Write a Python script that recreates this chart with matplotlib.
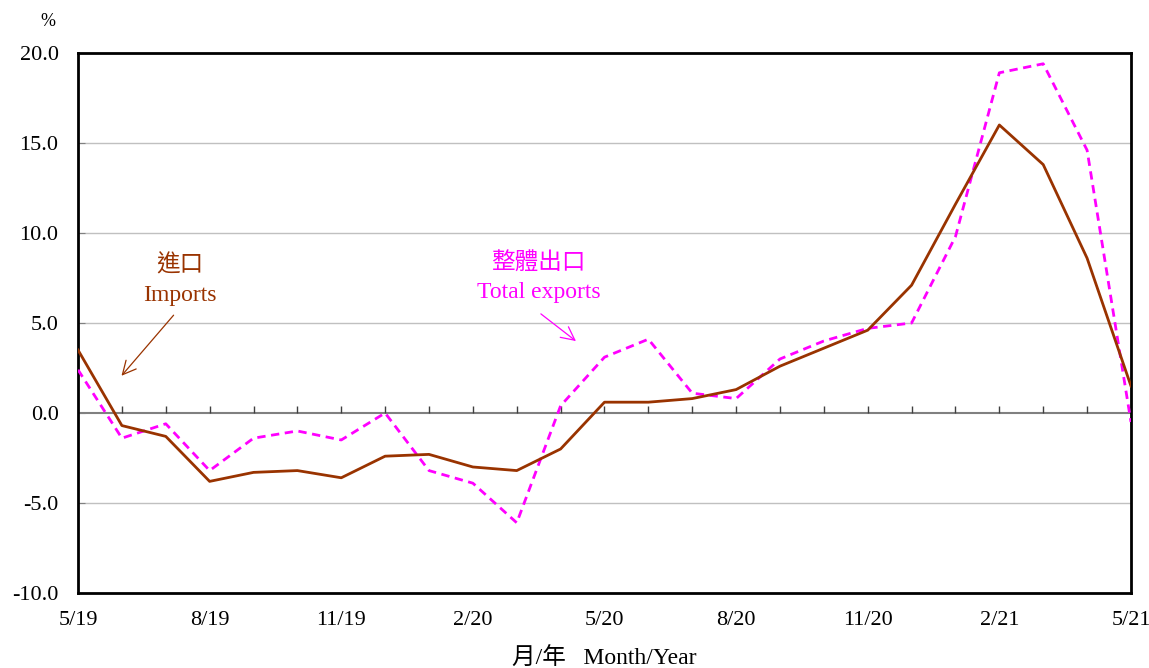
import numpy as np
import matplotlib
matplotlib.use("Agg")
import matplotlib.pyplot as plt

# Données (variation annuelle, %)
mois = ["5/19", "6/19", "7/19", "8/19", "9/19", "10/19", "11/19", "12/19",
        "1/20", "2/20", "3/20", "4/20", "5/20", "6/20", "7/20", "8/20",
        "9/20", "10/20", "11/20", "12/20", "1/21", "2/21", "3/21", "4/21", "5/21"]
imports = [3.5, -0.7, -1.3, -3.8, -3.3, -3.2, -3.6, -2.4, -2.3, -3.0, -3.2, -2.0,
           0.6, 0.6, 0.8, 1.3, 2.6, 3.6, 4.6, 7.1, 11.6, 16.0, 13.8, 8.6, 1.5]
exports = [2.4, -1.4, -0.6, -3.2, -1.4, -1.0, -1.5, 0.0, -3.2, -3.9, -6.1, 0.4,
           3.1, 4.1, 1.1, 0.8, 3.0, 4.0, 4.7, 5.0, 9.8, 18.9, 19.4, 14.6, -0.5]
yticks = [-10, -5, 0, 5, 10, 15, 20]

brun = "#993300"
rose = "#FF00FF"
police = ["Liberation Serif", "Noto Sans CJK TC"]
plt.rcParams["font.family"] = police

x = np.arange(len(mois))

fig = plt.figure(figsize=(11.49, 6.68), dpi=100)
ax = fig.add_axes([0.0679, 0.1123, 0.9164, 0.8084])

# grille horizontale
for v in yticks[1:-1]:
    if v == 0:
        ax.axhline(v, color="#808080", lw=1.5, zorder=1)
    else:
        ax.axhline(v, color="#c0c0c0", lw=1, zorder=1)
# petites graduations sur la ligne zéro
ax.vlines(x[1:-1], 0, 0.4, color="#404040", lw=1, zorder=2)

ax.plot(x, exports, color=rose, lw=2, ls=(0, (3, 2)), zorder=3)
ax.plot(x, imports, color=brun, lw=2, zorder=4)

ax.set_xlim(0, len(mois) - 1)
ax.set_ylim(-10, 20)
ax.set_yticks(yticks)
ax.set_yticklabels(["%.1f" % v for v in yticks], fontsize=16)
ax.set_xticks(x[::3])
ax.set_xticklabels(mois[::3], fontsize=16)
ax.tick_params(axis="x", length=0, pad=13)
ax.tick_params(axis="y", direction="in", length=5, color="#808080", pad=14)
for s in ax.spines.values():
    s.set_linewidth(2)
    s.set_color("black")

ax.set_xlabel("月/年   Month/Year", fontsize=17, labelpad=13)
fig.text(0.042, 0.968, "%", fontsize=13, ha="center", va="center")

# annotations
ax.text(2.33, 8.2, "進口", color=brun, fontsize=17, ha="center", va="center")
ax.text(2.33, 6.55, "Imports", color=brun, fontsize=17, ha="center", va="center")
ax.annotate("", xy=(0.95, 1.95), xytext=(2.22, 5.55),
            arrowprops=dict(arrowstyle="->", color=brun, lw=0.9, mutation_scale=24))

ax.text(10.5, 8.3, "整體出口", color=rose, fontsize=17, ha="center", va="center")
ax.text(10.5, 6.7, "Total exports", color=rose, fontsize=17, ha="center", va="center")
ax.annotate("", xy=(11.4, 3.9), xytext=(10.5, 5.6),
            arrowprops=dict(arrowstyle="->", color=rose, lw=0.9, mutation_scale=24))

fig.savefig("out.png", dpi=100)
